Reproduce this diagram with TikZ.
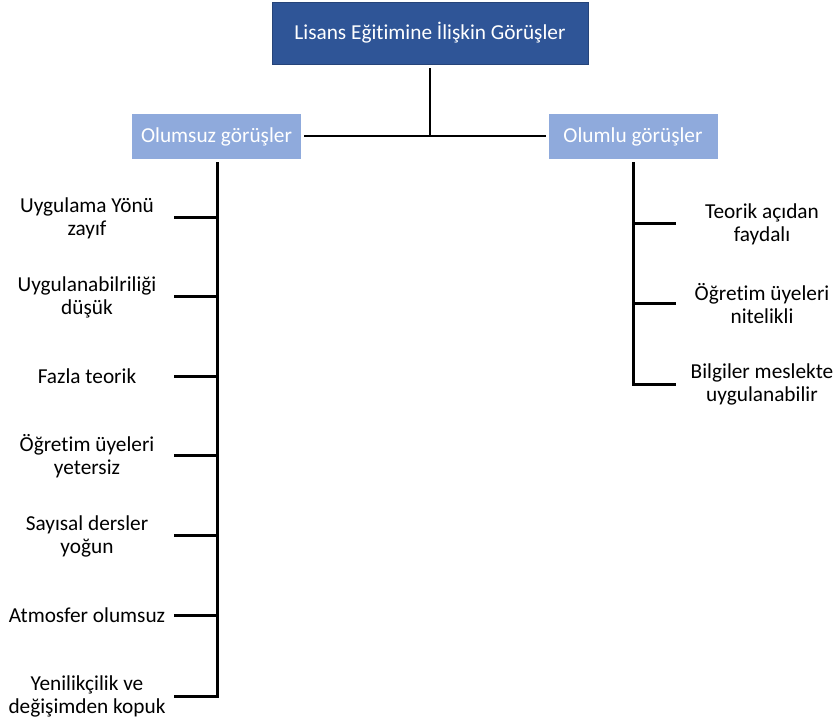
\documentclass[tikz,border=0pt]{standalone}
\usepackage{fontspec}
\setmainfont[Ligatures=NoCommon]{Carlito}
\definecolor{darkblue}{HTML}{2F5597}
\definecolor{lightblue}{HTML}{8FAADC}
\begin{document}
\begin{tikzpicture}[x=1pt,y=-1pt,
  topbox/.style={fill=darkblue,draw=darkblue!80!black,line width=0.6pt,text=white,minimum width=316pt,minimum height=62pt,inner sep=0pt,font=\fontsize{21.3}{24}\selectfont},
  catbox/.style={fill=lightblue,text=white,minimum width=169pt,minimum height=45pt,inner sep=0pt,font=\fontsize{21.3}{24}\selectfont},
  item/.style={align=center,inner sep=0pt,font=\fontsize{21.3}{23}\selectfont},
  thin/.style={line width=1.5pt},
  thick/.style={line width=3pt}]
\useasboundingbox (0,0) rectangle (836,723);
\node[topbox] (top) at (430,33) {Lisans Eğitimine İlişkin Görüşler};
\node[catbox] (neg) at (216.5,136.5) {Olumsuz görüşler};
\node[catbox] (pos) at (633,136.5) {Olumlu görüşler};
\coordinate (j) at (430,136);
\coordinate (ts) at (430,68);
\draw[thin] (ts) -- (j);
\draw[thin] (304,136) -- (546,136);
% left
\coordinate (ltop) at (217,162);
\coordinate (lbot) at (217,697.5);
\draw[thick] (ltop) -- (lbot);
\node[item] (l1) at (87,218) {Uygulama Yönü\\zayıf};
\node[item] (l2) at (87,297) {Uygulanabilriliği\\düşük};
\node[item] (l3) at (87,376) {Fazla teorik};
\node[item] (l4) at (87,456) {Öğretim üyeleri\\yetersiz};
\node[item] (l5) at (87,536) {Sayısal dersler\\yoğun};
\node[item] (l6) at (87,615) {Atmosfer olumsuz};
\node[item] (l7) at (87,696) {Yenilikçilik ve\\değişimden kopuk};
\foreach \y/\n in {217/1,296/2,376/3,455/4,535/5,615/6,696/7}{
  \coordinate (lb\n) at (174,\y);
  \draw[thick] (lb\n) -- (217,\y);
}
% right
\coordinate (rtop) at (633,162);
\coordinate (rbot) at (633,385.5);
\draw[thick] (rtop) -- (rbot);
\node[item] (r1) at (762,224) {Teorik açıdan\\faydalı};
\node[item] (r2) at (762,304) {Öğretim üyeleri\\nitelikli};
\node[item] (r3) at (762,384) {Bilgiler meslekte\\uygulanabilir};
\foreach \y/\n in {223/1,303/2,384/3}{
  \coordinate (rb\n) at (676,\y);
  \draw[thick] (633,\y) -- (rb\n);
}
\end{tikzpicture}
\end{document}
